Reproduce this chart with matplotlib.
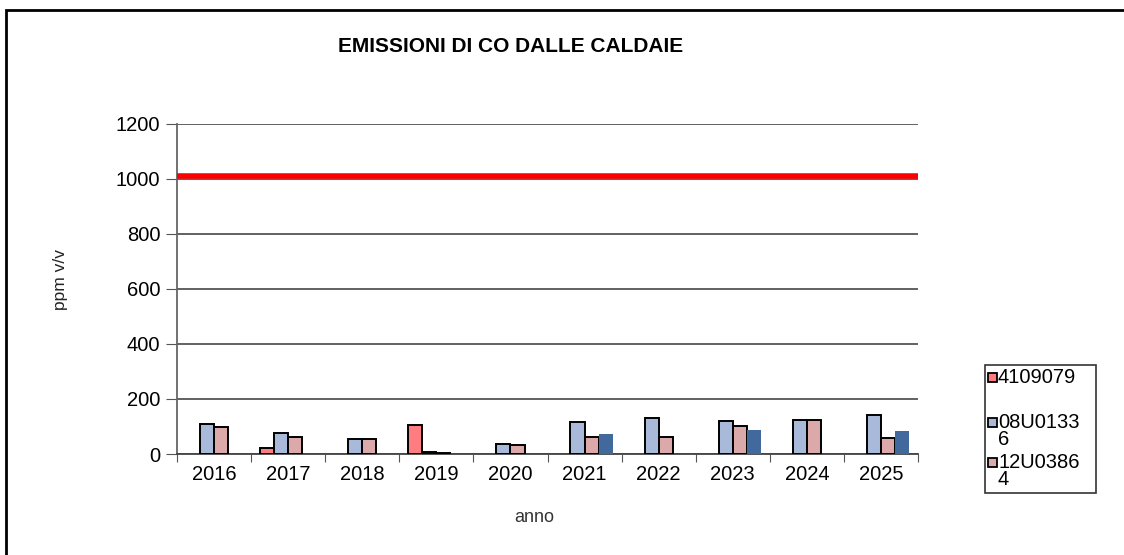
import numpy as np
import matplotlib.pyplot as plt
from matplotlib.patches import Rectangle

# ******************************************************************************
# * Data
# ******************************************************************************
anni = ['2016', '2017', '2018', '2019', '2020', '2021', '2022', '2023', '2024', '2025']
s_4109079 = [0, 23, 0, 104, 0, 0, 0, 0, 0, 0]
s_08U01336 = [110, 77, 54, 8, 37, 115, 132, 120, 124, 141]
s_12U03864 = [100, 63, 54, 3, 32, 61, 62, 101, 124, 57]
s_extra = [0, 0, 0, 0, 0, 74, 0, 87, 0, 84]
limite = [1010] * len(anni)
serie_labels = ['4109079', '08U0133\n6', '12U0386\n4']
colori = ['#FF7C80', '#A9B9D9', '#DBA9A9', '#41699E']

plt.rcParams['font.family'] = ['Liberation Sans', 'DejaVu Sans']

fig = plt.figure(figsize=(11.24, 5.55), dpi=100)
ax = fig.add_axes([177 / 1124, 1 - 454 / 555, 741 / 1124, 330 / 555])

x = np.arange(len(anni))
w = 0.19
serie = [s_4109079, s_08U01336, s_12U03864, s_extra]
for i, vals in enumerate(serie):
    v = np.array(vals, dtype=float)
    v[v == 0] = np.nan
    ec = 'black' if i < 3 else 'none'
    ax.bar(x + (i - 1.5) * w, v, w, color=colori[i], edgecolor=ec, linewidth=1.4,
           zorder=3)

# limit line
ax.plot(np.arange(-0.5, len(anni) + 0.5), limite + [limite[-1]], color='#FF0000',
        linewidth=4, zorder=4, solid_capstyle='butt')

ax.set_xlim(-0.5, len(anni) - 0.5)
ax.set_ylim(0, 1200)
ax.set_yticks(np.arange(0, 1201, 200))
ax.yaxis.grid(True, color='#555555', linewidth=1.3, zorder=0)
ax.set_axisbelow(True)

ax.set_xticks(np.arange(-0.5, len(anni)), minor=False)
ax.set_xticklabels([])
ax.set_xticks(x, minor=True)
ax.set_xticklabels(anni, minor=True, fontsize=14.5)
ax.tick_params(axis='x', which='minor', length=0, pad=8)
ax.tick_params(axis='x', which='major', length=6, direction='out', color='#555555')
ax.tick_params(axis='y', length=8, direction='out', color='#555555', labelsize=14.5, pad=4)

for s in ['top', 'right']:
    ax.spines[s].set_visible(False)
ax.spines['left'].set_color('#666666')
ax.spines['bottom'].set_color('#444444')
ax.spines['left'].set_linewidth(1.3)
ax.spines['bottom'].set_linewidth(1.3)

ax.set_ylabel('ppm v/v', fontsize=12.5, color='#222222')
ax.yaxis.set_label_coords((60 - 177) / 741, (454 - 280) / 330)
ax.set_xlabel('anno', fontsize=13, color='#333333')
ax.xaxis.set_label_coords((534 - 177) / 741, -(517 - 454) / 330)
ax.xaxis.label.set_va('center')
ax.yaxis.label.set_va('center')

fig.text(511 / 1124, 1 - 47 / 555, 'EMISSIONI DI CO DALLE CALDAIE',
         ha='center', va='center', fontsize=15, fontweight='bold')

# legend, drawn by hand so the markers sit on the first line
fig.patches.append(Rectangle((985 / 1124, 1 - 493 / 555), 111 / 1124, 128 / 555,
                             transform=fig.transFigure, fill=True, facecolor='white',
                             edgecolor='#333333', linewidth=1.2))
leg_y = [377, 422, 462]
for lab, col, yy in zip(serie_labels, colori, leg_y):
    fig.patches.append(Rectangle((988 / 1124, 1 - (yy + 5) / 555), 9 / 1124, 9 / 555,
                                 transform=fig.transFigure, facecolor=col,
                                 edgecolor='black', linewidth=1.3))
    fig.text(998 / 1124, 1 - (yy - 9) / 555, lab, ha='left', va='top',
             fontsize=14.5, linespacing=0.85)

# outer frame
fig.patches.append(Rectangle((6.5 / 1124, -0.1), 1.2, 1 - 9.5 / 555 + 0.1,
                             transform=fig.transFigure, fill=False,
                             edgecolor='black', linewidth=2))

fig.savefig('out.png', dpi=100)
